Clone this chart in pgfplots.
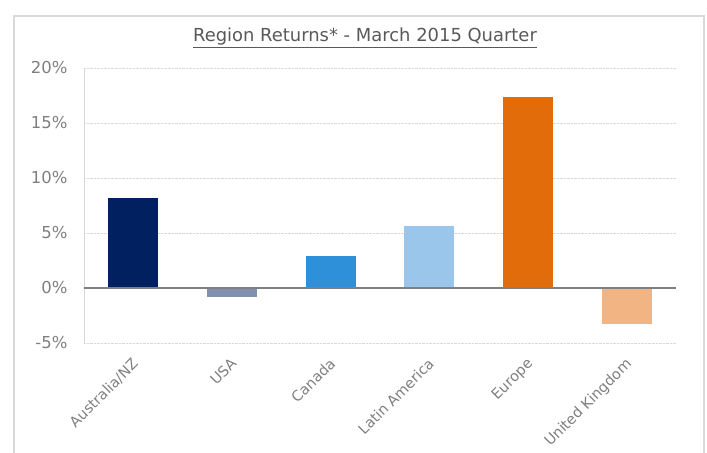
\documentclass[border=0pt]{standalone}
\usepackage{pgfplots}
\pgfplotsset{compat=1.18}
\usepackage{fontspec}
\setmainfont{DejaVu Sans}
\definecolor{cAus}{HTML}{002060}
\definecolor{cUSA}{HTML}{8190B0}
\definecolor{cCan}{HTML}{2E90D8}
\definecolor{cLat}{HTML}{99C6EA}
\definecolor{cEur}{HTML}{E36C0A}
\definecolor{cUK}{HTML}{F2B482}
\definecolor{titlegray}{HTML}{595959}
\definecolor{labelgray}{HTML}{7F7F7F}
\definecolor{framegray}{HTML}{D9D9D9}
\definecolor{gridgray}{HTML}{D9D9D9}
\definecolor{zerogray}{HTML}{808080}
\begin{document}
\begin{tikzpicture}[x=1bp,y=1bp]
\useasboundingbox (0,0) rectangle (707,453);
\begin{scope}
\clip (0,0) rectangle (707,453);
\draw[color=framegray, line width=1.5bp] (14,-10) rectangle (704,437);
\end{scope}
\node[text=titlegray, font=\fontsize{18}{21}\selectfont] at (365,415) {\underline{Region Returns* - March 2015 Quarter}};
\begin{axis}[
  at={(84bp,110bp)}, anchor=south west,
  scale only axis, width=592bp, height=275bp,
  xmin=-0.5, xmax=5.5, ymin=-5, ymax=20,
  ybar, bar width=50bp, bar shift=0pt,
  separate axis lines,
  axis y line*=left,
  axis x line*=bottom,
  x axis line style={draw=none},
  y axis line style={draw=framegray, line width=1bp, -},
  xtick={0,1,2,3,4,5},
  xticklabels={Australia/NZ,USA,Canada,Latin America,Europe,United Kingdom},
  ytick={-5,0,5,10,15,20},
  yticklabels={-5\%,0\%,5\%,10\%,15\%,20\%},
  major tick length=0pt,
  ymajorgrids, grid style={densely dotted, draw=gridgray, line width=0.8bp},
  yticklabel style={text=labelgray, font=\fontsize{16.5}{19}\selectfont, xshift=-13bp},
  xticklabel style={text=labelgray, font=\fontsize{14.5}{17}\selectfont, rotate=45, anchor=north east, xshift=-8bp, yshift=-5bp},
  clip=false,
]
\addplot[fill=cAus, draw=none] coordinates {(0,8.15)};
\addplot[fill=cUSA, draw=none] coordinates {(1,-0.8)};
\addplot[fill=cCan, draw=none] coordinates {(2,2.9)};
\addplot[fill=cLat, draw=none] coordinates {(3,5.6)};
\addplot[fill=cEur, draw=none] coordinates {(4,17.4)};
\addplot[fill=cUK, draw=none] coordinates {(5,-3.25)};
\draw[zerogray, line width=1.8bp] (axis cs:-0.5,0) -- (axis cs:5.5,0);
\end{axis}
\end{tikzpicture}
\end{document}
